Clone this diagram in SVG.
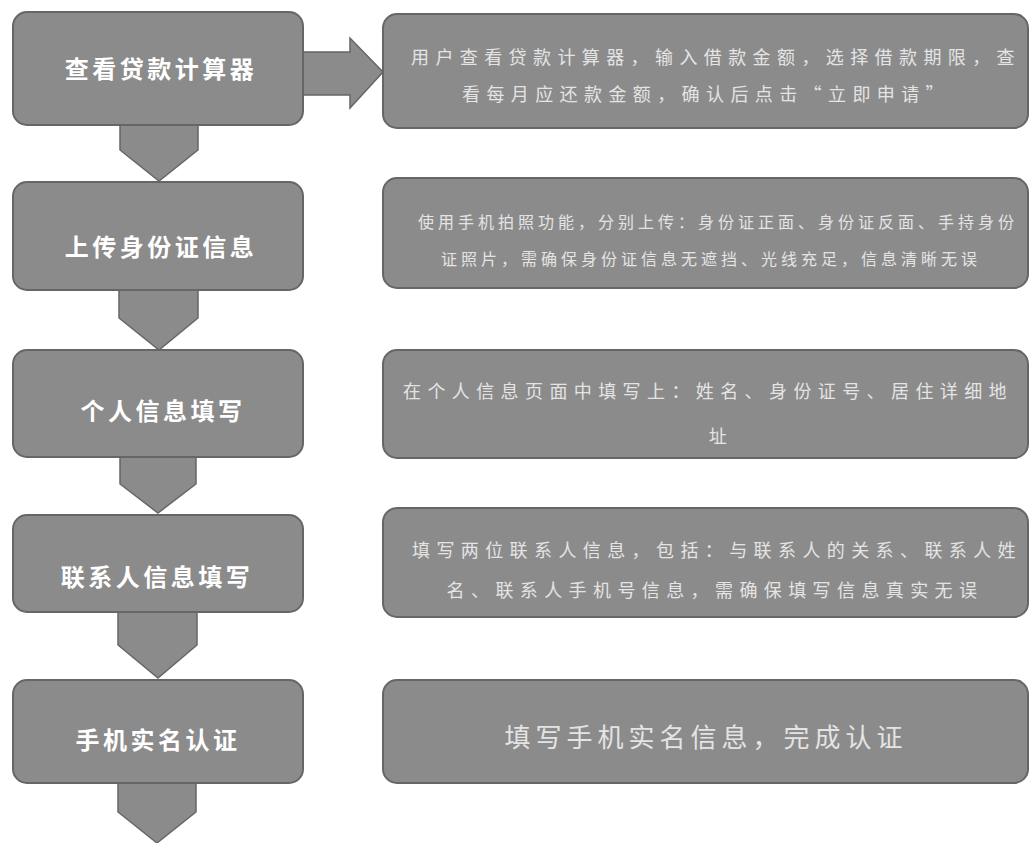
<svg xmlns="http://www.w3.org/2000/svg" width="1031" height="843" viewBox="0 0 1031 843">
<style>
.box{fill:#8b8b8b;stroke:#666;stroke-width:2}
.arr{fill:#8b8b8b;stroke:#666;stroke-width:1.5}
.lt{font-family:"Noto Sans CJK SC","Noto Sans",sans-serif;font-weight:bold;font-size:24px;fill:#fff;text-anchor:middle;letter-spacing:3.5px}
.rt{font-family:"Noto Sans CJK SC","Noto Sans",sans-serif;font-size:18px;fill:#e4e4e4;text-anchor:middle;letter-spacing:6.4px}
.rs{font-family:"Noto Sans CJK SC","Noto Sans",sans-serif;font-size:16px;fill:#e4e4e4;text-anchor:middle;letter-spacing:4px}
.rb{font-family:"Noto Sans CJK SC","Noto Sans",sans-serif;font-size:26px;fill:#e4e4e4;text-anchor:middle;letter-spacing:5px}
</style>
<rect width="1031" height="843" fill="#fff"/>
<g id="connectors">
<polygon class="arr" points="120,124 198,124 198,150 159,181 120,150"/>
<polygon class="arr" points="119,289 198,289 198,318 159,350 119,318"/>
<polygon class="arr" points="120,456 196,456 196,484 158,513 120,484"/>
<polygon class="arr" points="118,611 197,611 197,645 158,678 118,645"/>
<polygon class="arr" points="118,782 196,782 196,812 157,843 118,812"/>
<polygon class="arr" points="302,52 350,52 350,38 383,72 350,108 350,95 302,95"/>
</g>
<g id="n1"><rect class="box" x="13" y="12" width="290" height="113" rx="14"/><text class="lt" x="161" y="78">查看贷款计算器</text></g>
<g id="n2"><rect class="box" x="13" y="182" width="290" height="108" rx="14"/><text class="lt" x="161" y="256">上传身份证信息</text></g>
<g id="n3"><rect class="box" x="13" y="350" width="290" height="107" rx="14"/><text class="lt" x="163" y="420">个人信息填写</text></g>
<g id="n4"><rect class="box" x="13" y="515" width="290" height="97" rx="14"/><text class="lt" x="157" y="586">联系人信息填写</text></g>
<g id="n5"><rect class="box" x="13" y="680" width="290" height="103" rx="14"/><text class="lt" x="158" y="749">手机实名认证</text></g>
<g id="d1"><rect class="box" x="383" y="14" width="645" height="114" rx="14"/>
<text class="rt" x="716" y="64">用户查看贷款计算器，输入借款金额，选择借款期限，查</text>
<text class="rt" x="706" y="101">看每月应还款金额，确认后点击“立即申请”</text></g>
<g id="d2"><rect class="box" x="383" y="178" width="645" height="110" rx="14"/>
<text class="rs" x="718" y="228">使用手机拍照功能，分别上传：身份证正面、身份证反面、手持身份</text>
<text class="rs" x="711" y="265">证照片，需确保身份证信息无遮挡、光线充足，信息清晰无误</text></g>
<g id="d3"><rect class="box" x="383" y="350" width="645" height="108" rx="14"/>
<text class="rt" x="708" y="398">在个人信息页面中填写上：姓名、身份证号、居住详细地</text>
<text class="rt" x="721" y="443">址</text></g>
<g id="d4"><rect class="box" x="383" y="508" width="645" height="109" rx="14"/>
<text class="rt" x="717" y="557">填写两位联系人信息，包括：与联系人的关系、联系人姓</text>
<text class="rt" x="715" y="597">名、联系人手机号信息，需确保填写信息真实无误</text></g>
<g id="d5"><rect class="box" x="383" y="680" width="645" height="103" rx="14"/>
<text class="rb" x="706" y="747">填写手机实名信息，完成认证</text></g>
</svg>
